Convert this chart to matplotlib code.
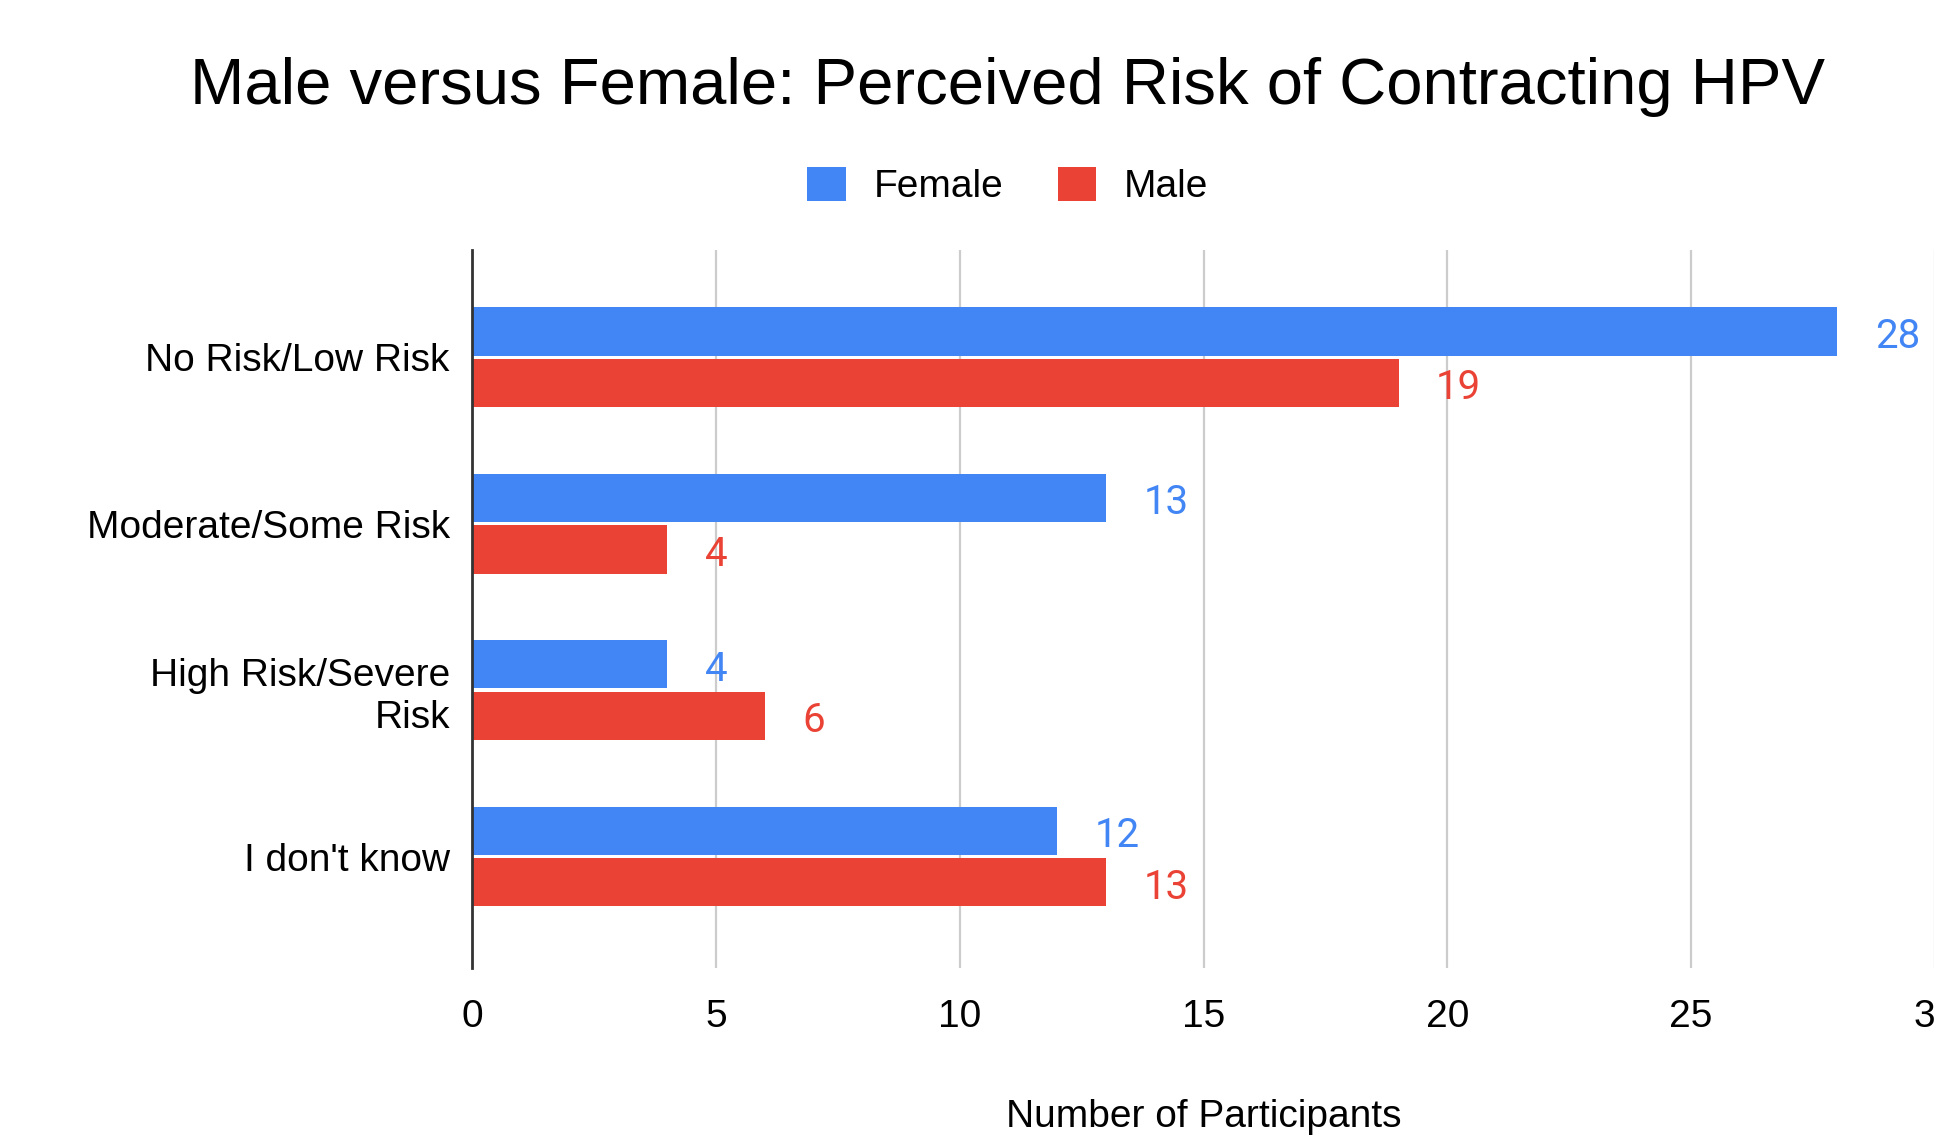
import matplotlib
matplotlib.use("Agg")
import matplotlib.pyplot as plt
import numpy as np

categories = ["No Risk/Low Risk", "Moderate/Some Risk", "High Risk/Severe\nRisk", "I don't know"]
female = [28, 13, 4, 12]
male = [19, 4, 6, 13]
xticks = [0, 5, 10, 15, 20, 25, 30]

BLUE = "#4285F4"
RED = "#EA4335"

plt.rcParams["font.family"] = ["Liberation Sans", "DejaVu Sans"]

fig = plt.figure(figsize=(19.34, 11.36), dpi=100)
ax = fig.add_axes([472 / 1934, 168 / 1136, 1463 / 1934, 718 / 1136])

y = np.arange(len(categories))
h = 0.29
off = 0.155
b1 = ax.barh(y - off, female, height=h, color=BLUE, label="Female", zorder=3)
b2 = ax.barh(y + off, male, height=h, color=RED, label="Male", zorder=3)

for bars, vals, col in ((b1, female, BLUE), (b2, male, RED)):
    for bar, v in zip(bars, vals):
        ax.annotate(str(v), (v, bar.get_y() + bar.get_height() / 2),
                    xytext=(27, -3.5), textcoords="offset points",
                    ha="left", va="center", color=col, fontsize=29,
                    family=["Roboto", "DejaVu Sans"])

ax.set_xlim(0, 30)
ax.set_ylim(3.67, -0.645)
ax.set_xticks(xticks)
ax.set_yticks(y)
ax.set_yticklabels(categories, fontsize=28, ha="right")
ax.tick_params(axis="both", length=0, labelsize=28)
ax.tick_params(axis="x", pad=22)
ax.tick_params(axis="y", pad=16)
for t in ax.get_xticklabels():
    t.set_clip_on(False)
for t in ax.get_yticklabels():
    t.set_va("center_baseline")
ax.grid(axis="x", color="#cccccc", linewidth=1.6, zorder=0)
for s in ("top", "right", "bottom"):
    ax.spines[s].set_visible(False)
ax.spines["left"].set_color("#333333")
ax.spines["left"].set_linewidth(2)
ax.spines["left"].set_zorder(4)

ax.set_xlabel("Number of Participants", fontsize=28)
ax.xaxis.set_label_coords(0.5, -(1117 - 968) / 718)
ax.xaxis.label.set_va("center")

fig.text(0.521, 1 - 87 / 1136, "Male versus Female: Perceived Risk of Contracting HPV",
         ha="center", va="center", fontsize=47)

fig.legend(handles=[b1, b2], labels=["Female", "Male"], loc="center",
           bbox_to_anchor=(0.521, 1 - 186 / 1136), ncol=2, frameon=False,
           fontsize=28, handlelength=1.0, handleheight=1.0, handletextpad=0.7,
           columnspacing=1.4)

fig.savefig("out.png", dpi=100)
